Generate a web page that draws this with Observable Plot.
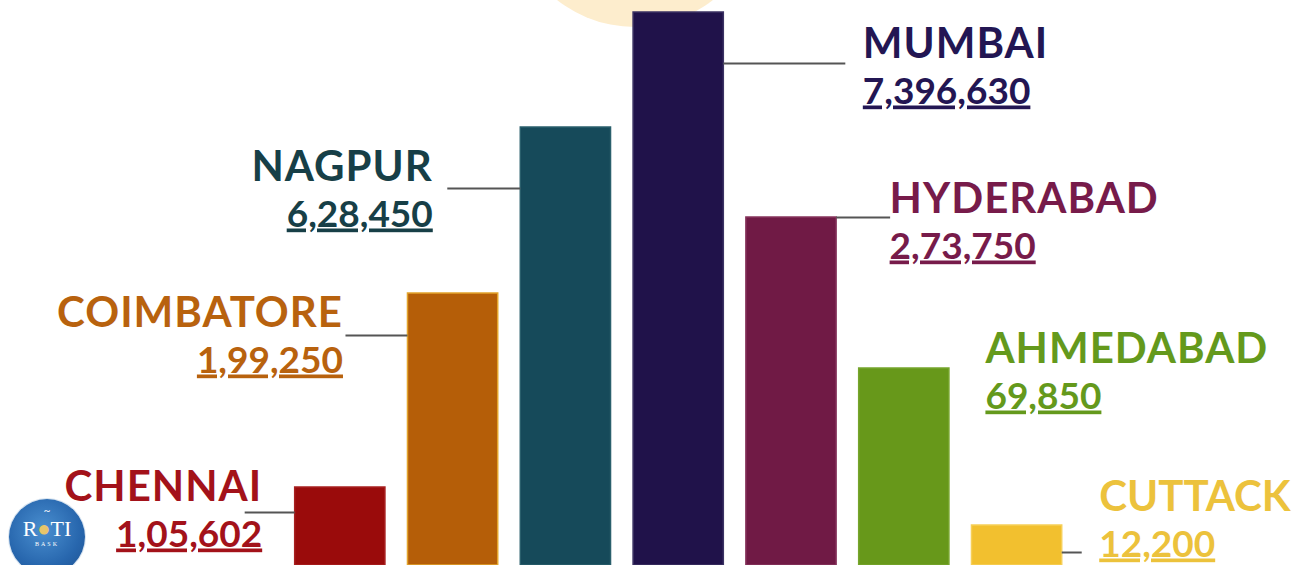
<!DOCTYPE html>
<html>
<head>
<meta charset="utf-8">
<script src="https://cdn.jsdelivr.net/npm/d3@7"></script>
<script src="https://cdn.jsdelivr.net/npm/@observablehq/plot@0.6"></script>
<style>
  html, body { margin: 0; padding: 0; background: #ffffff; overflow: hidden; }
  #wrap { position: relative; width: 1295px; height: 565px; overflow: hidden; }
  #sun { position: absolute; left: 509px; top: -225px; width: 252px; height: 252px; border-radius: 50%; background: #fdedcd; z-index: 0; }
  #chart { position: absolute; left: 0; top: 0; z-index: 1; }
  #logo { position: absolute; left: 9px; top: 499px; width: 76px; height: 76px; border-radius: 50%; z-index: 2;
          background: radial-gradient(circle at 45% 40%, #4a8fd0 0%, #2766ad 60%, #1d4f8e 100%);
          box-shadow: 0 0 0 1px #d8e4f0; font-family: "Liberation Serif", serif; color: #fff; text-align: center; }
  #logo .top { position: absolute; left: 0; right: 0; top: 5px; font-size: 11px; font-weight: bold; }
  #logo .roti { position: absolute; left: 0; right: 0; top: 17px; font-size: 22px; letter-spacing: 0px; }
  #logo .roti span { color: #e8c56a; }
  #logo .bask { position: absolute; left: 0; right: 0; top: 42px; font-size: 6px; letter-spacing: 2px; }
</style>
</head>
<body>
<div id="wrap">
  <div id="sun"></div>
  <div id="chart"></div>
  <div id="logo"><div class="top">~</div><div class="roti">R<span>●</span>TI</div><div class="bask">BASK</div></div>
</div>
<script>
// ---- data ----
const cities = ["CHENNAI", "COIMBATORE", "NAGPUR", "MUMBAI", "HYDERABAD", "AHMEDABAD", "CUTTACK"];
const valueLabels = ["1,05,602", "1,99,250", "6,28,450", "7,396,630", "2,73,750", "69,850", "12,200"];
// bar heights as drawn (the infographic is not to scale), in picture units
const barHeights = [78, 272, 438, 553, 348, 197, 40];
const barColors = ["#9a0b0b", "#b55e08", "#164a5a", "#20124a", "#701a45", "#67981a", "#f2c02f"];
const barBorders = ["#a82020", "#e3a42c", "#2a5f6c", "#3b3263", "#86345c", "#76a52c", "#f6cf58"];
const textColors = ["#a3121a", "#b8620e", "#173f47", "#231653", "#771b4a", "#64991c", "#ecc23c"];

// ---- label layout (styling, not data) ----
const layout = [
  {side: -1, gap: 33, nameOff: 13, lineOff: 25, lineLen: 50, ls: 1},
  {side: -1, gap: 65, nameOff: 33, lineOff: 42, lineLen: 62, ls: 1},
  {side: -1, gap: 88, nameOff: 53, lineOff: 61, lineLen: 73, ls: 1},
  {side: 1, gap: 139, nameOff: 45, lineOff: 51, lineLen: 122, ls: 1},
  {side: 1, gap: 53, nameOff: -5, lineOff: 0, lineLen: 54, ls: 1},
  {side: 1, gap: 36, nameOff: -6, lineOff: 0, lineLen: 0, ls: 1},
  {side: 1, gap: 37, nameOff: -15, lineOff: 27, lineLen: 20, ls: 0}
];

const W = 1295, H = 565;
const xRange = [339.8, 1016.6];
const pxPerUnit = (xRange[1] - xRange[0]) / (cities.length - 1);
const half = 0.4;

const rows = cities.map((c, i) => ({
  i, city: c, label: valueLabels[i], h: barHeights[i],
  fill: barColors[i], stroke: barBorders[i], color: textColors[i], ...layout[i]
}));
const leftRows = rows.filter(d => d.side < 0);
const rightRows = rows.filter(d => d.side > 0);

const font = "Lato, 'Open Sans', sans-serif";
const textX = d => d.i + d.side * (half + d.gap / pxPerUnit);

function nameMark(data, anchor) {
  return Plot.text(data, {
    x: textX, y: d => d.h - d.nameOff, text: "city", fill: "color",
    textAnchor: anchor, lineAnchor: "bottom",
    fontSize: 42, fontWeight: 700, fontFamily: font
  });
}
function valueMark(data, anchor) {
  return Plot.text(data, {
    x: textX, y: d => d.h - d.nameOff - 46, text: "label", fill: "color",
    textAnchor: anchor, lineAnchor: "bottom",
    fontSize: 37, fontWeight: 700, fontFamily: font
  });
}

const marks = [
  Plot.rectY(rows, {
    x1: d => d.i - half, x2: d => d.i + half, y1: 0, y2: "h",
    fill: "fill", stroke: "stroke", strokeWidth: 1.5
  }),
  Plot.ruleY(rows.filter(d => d.lineLen > 0), {
    y: d => d.h - d.lineOff,
    x1: d => d.i + d.side * half,
    x2: d => d.i + d.side * (half + d.lineLen / pxPerUnit),
    stroke: "#555555", strokeWidth: 2
  }),
  nameMark(leftRows, "end"),
  nameMark(rightRows, "start"),
  valueMark(leftRows, "end"),
  valueMark(rightRows, "start")
];

const chart = Plot.plot({
  width: W, height: H,
  margin: 0,
  style: {background: "transparent", overflow: "visible"},
  x: {type: "linear", domain: [0, cities.length - 1], range: xRange, axis: null},
  y: {type: "linear", domain: [0, H], range: [H, 0], axis: null},
  color: {type: "identity"},
  marks
});

document.getElementById("chart").appendChild(chart);
const svg = d3.select(chart);
svg.selectAll("text").each(function () {
  const t = this.textContent;
  const ci = cities.indexOf(t);
  if (ci >= 0) {
    d3.select(this).style("letter-spacing", layout[ci].ls + "px");
  } else if (valueLabels.includes(t)) {
    d3.select(this)
      .style("text-decoration", "underline")
      .style("text-decoration-thickness", "2.5px")
      .style("text-underline-offset", "4px");
  }
});
</script>
</body>
</html>
